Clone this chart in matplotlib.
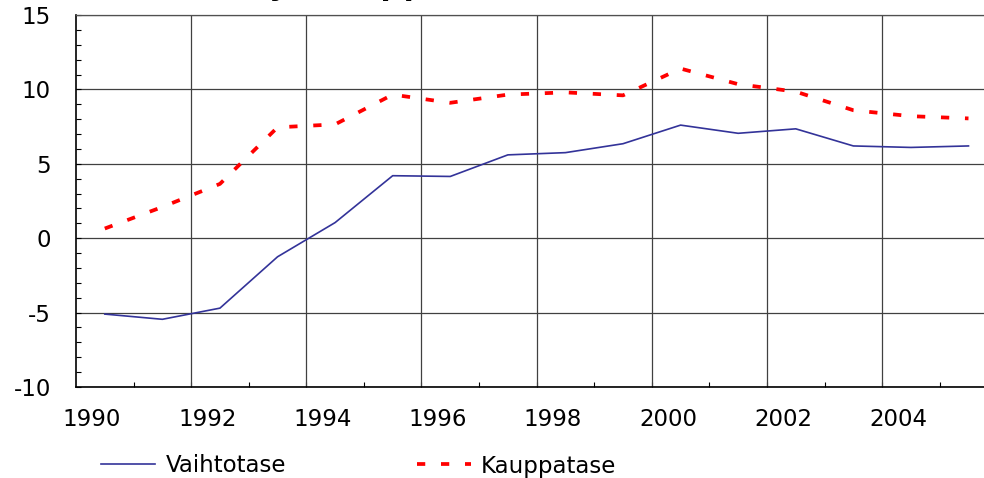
import numpy as np
import matplotlib
matplotlib.use('Agg')
import matplotlib.pyplot as plt
from matplotlib.lines import Line2D

plt.rcParams['font.family'] = ['DejaVu Sans']
plt.rcParams['axes.unicode_minus'] = False

# current account and trade balance, % of GDP
years = np.arange(1990, 2006)
vaihtotase = [-5.1, -5.45, -4.7, -1.25, 1.05, 4.2, 4.15, 5.6, 5.75, 6.35,
              7.6, 7.05, 7.35, 6.2, 6.1, 6.2]
kauppatase = [0.65, 2.1, 3.65, 7.45, 7.65, 9.65, 9.1, 9.65, 9.8, 9.6,
              11.4, 10.35, 9.85, 8.6, 8.2, 8.05]
label_years = [1990, 1992, 1994, 1996, 1998, 2000, 2002, 2004]
y_ticks = [-10, -5, 0, 5, 10, 15]

blue = '#333399'
red = '#ff0000'

fig = plt.figure(figsize=(9.84, 4.78), dpi=100)
ax = fig.add_axes([76/984, 91/478, 908/984, 372/478])

ax.plot(years, vaihtotase, color=blue, linewidth=1.2, zorder=3)
ax.plot(years, kauppatase, color=red, linewidth=2.7,
        linestyle=(0, (2.2, 4.2)), zorder=3)

# categories sit between the tick marks, grid every second year
ax.set_xlim(1989.5, 1989.5 + 908/57.58)
ax.set_ylim(-10, 15)
ax.set_xticks([y - 0.22 for y in label_years], labels=[str(y) for y in label_years])
ax.set_xticks(np.arange(1990.5, 2005.3, 1.0), minor=True)
for xv in np.arange(1991.5, 2004, 2.0):
    ax.axvline(xv, color='#404040', linewidth=0.9, zorder=1)

ax.set_yticks(y_ticks)
ax.set_yticks(np.arange(-10, 16, 1), minor=True)
ax.yaxis.grid(True, color='#404040', linewidth=0.9, zorder=1)
ax.set_axisbelow(True)

ax.tick_params(axis='x', which='major', length=0, pad=15, labelsize=16.5)
ax.tick_params(axis='x', which='minor', direction='in', length=3.5, width=0.8)
ax.tick_params(axis='y', which='both', direction='in', length=3.8, width=0.8,
               pad=18, labelsize=16.5)

for side in ['left', 'bottom']:
    ax.spines[side].set_color('black')
    ax.spines[side].set_linewidth(1.2)
ax.spines['top'].set_color('#505050')
ax.spines['top'].set_linewidth(0.9)
ax.spines['right'].set_visible(False)

# chart title, mostly above the visible area
fig.text(72/984, 1 + 6.5/478, 'Vaihtotase ja kauppatase, % BKT:sta',
         fontsize=27.4, fontweight='bold', family='Liberation Sans',
         ha='left', va='baseline')

handles = [Line2D([], [], color=blue, linewidth=1.2),
           Line2D([], [], color=red, linewidth=2.7, linestyle=(0, (2.2, 4.2)))]
fig.legend(handles, ['Vaihtotase', 'Kauppatase'], loc='center left',
           bbox_to_anchor=(101/984, 12/478), ncol=2, frameon=False,
           fontsize=16.5, borderpad=0, borderaxespad=0, handlelength=2.36,
           handletextpad=0.45, columnspacing=5.7)

fig.savefig('out.png', dpi=100)
